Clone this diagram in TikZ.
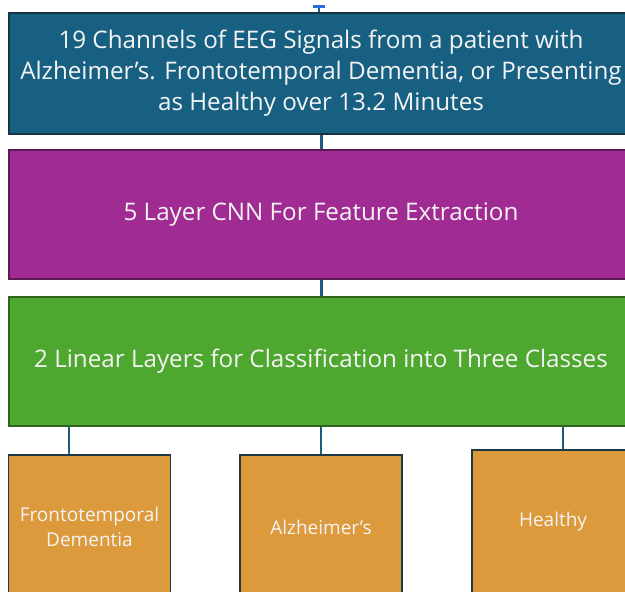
\documentclass[tikz,border=0pt]{standalone}
\usepackage{fontspec}
\setmainfont{Open Sans}

\newlength{\du}
\setlength{\du}{1pt}

\definecolor{eegcolor}{RGB}{24,96,130}
\definecolor{eegline}{RGB}{22,52,68}
\definecolor{cnncolor}{RGB}{160,43,147}
\definecolor{cnnline}{RGB}{92,26,84}
\definecolor{lincolor}{RGB}{78,167,46}
\definecolor{linline}{RGB}{46,100,28}
\definecolor{classcolor}{RGB}{220,154,60}
\definecolor{classline}{RGB}{30,56,70}
\definecolor{tiecolor}{RGB}{28,92,124}
\definecolor{handlecolor}{RGB}{46,110,224}
\definecolor{labelcolor}{RGB}{244,244,244}

\tikzset{
  layerbox/.style={draw, line width=1.5\du, inner sep=0pt, minimum width=624\du,
    align=center, text=labelcolor, font=\fontsize{24.2}{31}\selectfont},
  classbox/.style={draw=classline, fill=classcolor, line width=1.5\du, inner sep=0pt,
    minimum width=162\du, minimum height=144\du, align=center, text=labelcolor,
    font=\fontsize{19}{25}\selectfont},
  tie/.style={draw=tiecolor, line width=3\du},
  thintie/.style={draw=tiecolor, line width=2\du},
}

\begin{document}
\begin{tikzpicture}
\pgftransformxscale{1.000000}
\pgftransformyscale{-1.000000}
\clip (0\du,0\du) rectangle (625\du,592\du);
\fill[white] (0\du,0\du) rectangle (625\du,592\du);
% main layers
\node[layerbox, draw=eegline, fill=eegcolor, minimum height=121\du] (eeg) at (321\du,73.5\du)
  {19 Channels of EEG Signals from a patient with\\Alzheimer’s. Frontotemporal Dementia, or Presenting\\as Healthy over 13.2 Minutes};
\node[layerbox, draw=cnnline, fill=cnncolor, minimum height=129\du] (cnn) at (321\du,214.5\du)
  {5 Layer CNN For Feature Extraction};
\node[layerbox, draw=linline, fill=lincolor, minimum height=129\du] (lin) at (321\du,361.5\du)
  {2 Linear Layers for Classification into Three Classes};
% output classes
\node[classbox] (ftd) at (89.5\du,527\du) {Frontotemporal\\Dementia};
\node[classbox] (alz) at (321\du,527\du) {Alzheimer’s};
\node[classbox] (hlt) at (553\du,522\du) {Healthy};
% connectors
\draw[tie] (eeg.south) -- (cnn.north);
\draw[tie] (cnn.south) -- (lin.north);
\draw[thintie] ([xshift=-20.5\du]ftd.north) -- ([xshift=-20.5\du]ftd.north |- lin.south);
\draw[thintie] (alz.north) -- (alz.north |- lin.south);
\draw[thintie] ([xshift=10\du]hlt.north) -- ([xshift=10\du]hlt.north |- lin.south);
% handle above the input box
\coordinate (grip) at (319\du,6.5\du);
\draw[tie, line width=2\du] (grip) -- (grip |- eeg.north);
\draw[handlecolor, line width=3\du] ([xshift=-6\du]grip) -- ([xshift=6\du]grip);
\end{tikzpicture}
\end{document}
